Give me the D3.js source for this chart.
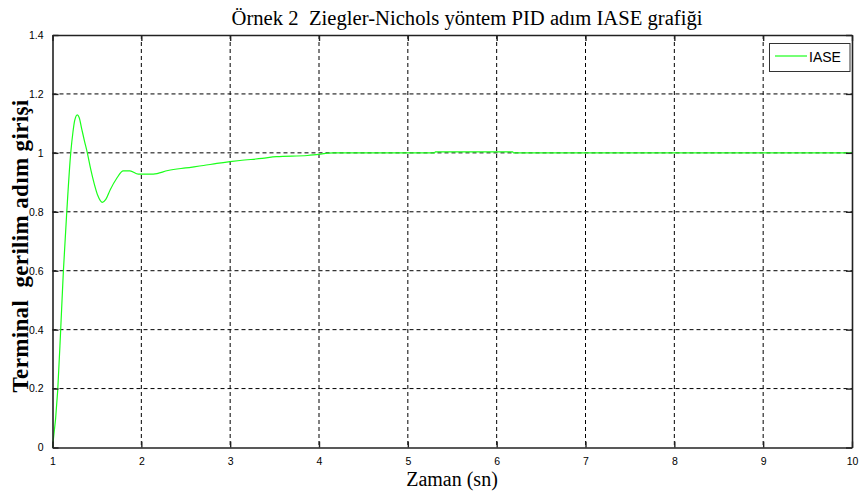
<!DOCTYPE html>
<html>
<head>
<meta charset="utf-8">
<script src="https://cdn.jsdelivr.net/npm/d3@7"></script>
<style>
  html, body { margin: 0; padding: 0; background: #fff; }
  svg { display: block; }
  text { white-space: pre; }
</style>
</head>
<body>
<svg id="chart" width="859" height="499"></svg>
<script>
// Step response of the Ziegler-Nichols PID loop (IASE tuning)
const timeSec = [1.00, 1.059, 1.092, 1.122, 1.160, 1.205, 1.23, 1.25, 1.279, 1.30, 1.33, 1.36,
  1.392, 1.43, 1.47, 1.51, 1.561, 1.60, 1.65, 1.72, 1.797, 1.872, 1.966, 2.135, 2.30, 2.50,
  2.70, 2.85, 2.998, 3.11, 3.36, 3.52, 3.87, 3.97, 4.16, 5.30, 5.31, 6.18, 6.19, 10.0];
const responseIASE = [0.000, 0.195, 0.399, 0.596, 0.796, 0.999, 1.07, 1.11, 1.129, 1.12, 1.08, 1.04,
  1.000, 0.945, 0.895, 0.855, 0.832, 0.842, 0.875, 0.912, 0.939, 0.939, 0.928, 0.928, 0.940, 0.949,
  0.957, 0.964, 0.970, 0.974, 0.981, 0.987, 0.991, 0.994, 1.000, 1.000, 1.003, 1.003, 1.000, 1.000];

const xTicks = [1, 2, 3, 4, 5, 6, 7, 8, 9, 10];
const yTicks = [0, 0.2, 0.4, 0.6, 0.8, 1, 1.2, 1.4];
const yTickLabels = ["0", "0.2", "0.4", "0.6", "0.8", "1", "1.2", "1.4"];

const titleText = "Örnek 2  Ziegler-Nichols yöntem PID adım IASE grafiği";
const xLabelText = "Zaman (sn)";
const yLabelText = "Terminal  gerilim adım girişi";
const seriesName = "IASE";

const svg = d3.select("#chart");
const plot = { left: 52.5, right: 852, top: 35, bottom: 447.5 };

const x = d3.scaleLinear().domain([1, 10]).range([plot.left, plot.right]);
const y = d3.scaleLinear().domain([0, 1.4]).range([plot.bottom, plot.top]);

const tickFont = "'Liberation Sans Narrow', 'Arial Narrow', 'Liberation Sans', Arial, sans-serif";
const serif = "'Liberation Serif', 'Times New Roman', serif";

// dashed grid
const grid = svg.append("g");
grid.selectAll("line.gx").data(xTicks.slice(1, -1)).join("line")
  .attr("x1", d => x(d)).attr("x2", d => x(d))
  .attr("y1", plot.top).attr("y2", plot.bottom)
  .attr("stroke", "#000").attr("stroke-width", 1).attr("stroke-dasharray", "4,3");
grid.selectAll("line.gy").data(yTicks.slice(1, -1)).join("line")
  .attr("x1", plot.left).attr("x2", plot.right)
  .attr("y1", d => y(d)).attr("y2", d => y(d))
  .attr("stroke", "#000").attr("stroke-width", 1).attr("stroke-dasharray", "4,3");

// response curve
const line = d3.line().x((d, i) => x(timeSec[i])).y(d => y(d)).curve(d3.curveMonotoneX);
svg.append("path").datum(responseIASE)
  .attr("d", line)
  .attr("fill", "none").attr("stroke", "#1aff1a").attr("stroke-width", 1.2);

// axes: bottom/left with labels, inward ticks on all four sides
const tickLen = 6;
const axisBottom = d3.axisBottom(x).tickValues(xTicks).tickSizeInner(-tickLen).tickSizeOuter(0)
  .tickPadding(10).tickFormat(d3.format("d"));
const axisTop = d3.axisTop(x).tickValues(xTicks).tickSizeInner(-tickLen).tickSizeOuter(0).tickFormat("");
const axisLeft = d3.axisLeft(y).tickValues(yTicks).tickSizeInner(-tickLen).tickSizeOuter(0)
  .tickPadding(9).tickFormat((d, i) => yTickLabels[i]);
const axisRight = d3.axisRight(y).tickValues(yTicks).tickSizeInner(-tickLen).tickSizeOuter(0).tickFormat("");

function styleAxis(g) {
  g.select(".domain").attr("stroke", "#222").attr("stroke-width", 1.6);
  g.selectAll(".tick line").attr("stroke", "#222").attr("stroke-width", 1.4);
  g.selectAll(".tick text").attr("fill", "#000")
    .style("font-family", tickFont).style("font-size", "10.5px");
}
svg.append("g").attr("transform", `translate(0,${plot.bottom})`).call(axisBottom).call(styleAxis);
svg.append("g").attr("transform", `translate(0,${plot.top})`).call(axisTop).call(styleAxis);
svg.append("g").attr("transform", `translate(${plot.left},0)`).call(axisLeft).call(styleAxis);
svg.append("g").attr("transform", `translate(${plot.right},0)`).call(axisRight).call(styleAxis);

// legend
const lg = svg.append("g");
lg.append("rect").attr("x", 769.5).attr("y", 43.5).attr("width", 80.5).attr("height", 28)
  .attr("fill", "#fff").attr("stroke", "#333").attr("stroke-width", 1);
lg.append("line").attr("x1", 775).attr("x2", 807).attr("y1", 56).attr("y2", 56)
  .attr("stroke", "#1aff1a").attr("stroke-width", 1.2);
lg.append("text").attr("x", 809).attr("y", 62).text(seriesName)
  .style("font-family", tickFont).style("font-size", "14px").attr("fill", "#000");

// titles
svg.append("text").attr("x", 467).attr("y", 25).attr("text-anchor", "middle")
  .attr("textLength", 471).attr("lengthAdjust", "spacingAndGlyphs")
  .style("font-family", serif).style("font-size", "20px").attr("fill", "#000")
  .text(titleText);

svg.append("text").attr("x", 452).attr("y", 486).attr("text-anchor", "middle")
  .style("font-family", serif).style("font-size", "20px").attr("fill", "#000")
  .text(xLabelText);

svg.append("text")
  .attr("transform", "translate(28,246) rotate(-90)")
  .attr("text-anchor", "middle")
  .style("font-family", serif).style("font-size", "23px").style("font-weight", "bold")
  .style("letter-spacing", "0.35px")
  .attr("fill", "#000")
  .text(yLabelText);
</script>
</body>
</html>
